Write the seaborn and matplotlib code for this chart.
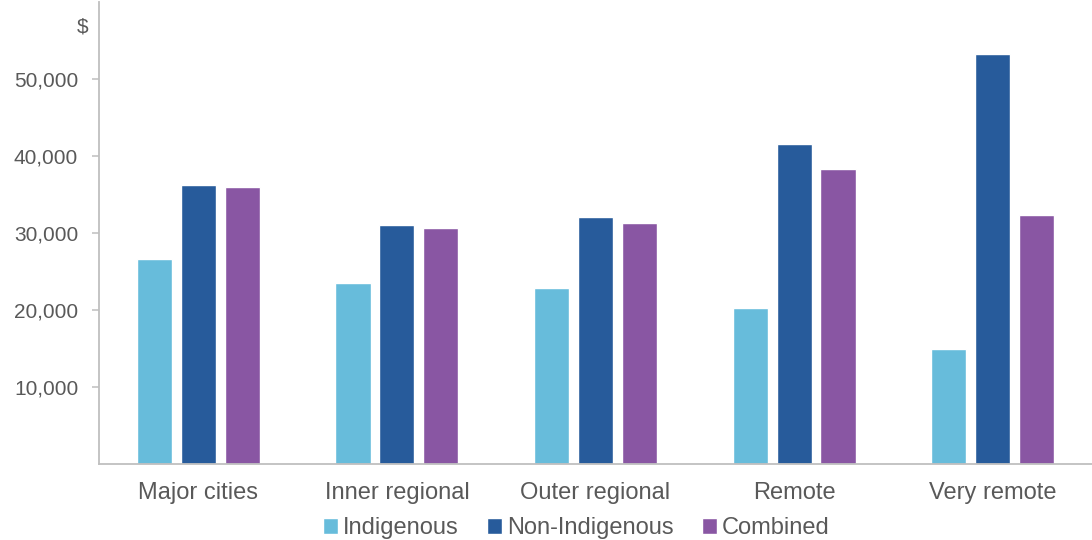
import matplotlib
matplotlib.use("Agg")
import matplotlib.pyplot as plt
import seaborn as sns
import pandas as pd
from matplotlib.ticker import FuncFormatter

regions = ["Major cities", "Inner regional", "Outer regional", "Remote", "Very remote"]
groups = ["Indigenous", "Non-Indigenous", "Combined"]
indigenous = [26650, 23550, 22900, 20200, 14900]
non_indigenous = [36250, 31050, 32100, 41550, 53250]
combined = [36000, 30650, 31350, 38250, 32300]
colors = ["#67BCDB", "#275B9B", "#8956A3"]
yticks = [10000, 20000, 30000, 40000, 50000]

rows = []
for g, vals in zip(groups, [indigenous, non_indigenous, combined]):
    for r, v in zip(regions, vals):
        rows.append({"region": r, "group": g, "value": v})
df = pd.DataFrame(rows)

sns.set_theme(style="white")
plt.rcParams["font.family"] = ["Liberation Sans", "DejaVu Sans"]

W, H = 1092, 540
fig = plt.figure(figsize=(W / 100, H / 100), dpi=100)
ax = fig.add_axes([99 / W, (H - 464) / H, (W - 99) / W, (464 - 2) / H])

sns.barplot(data=df, x="region", y="value", hue="group", order=regions,
            hue_order=groups, palette=colors, width=0.663, gap=0.2,
            ax=ax, errorbar=None, saturation=1)

ax.set_xlim(-0.5, 4.5)
ax.set_ylim(0, 60000)
ax.set_yticks(yticks)
ax.yaxis.set_major_formatter(FuncFormatter(lambda v, p: f"{int(v):,}"))
ax.set_xlabel("")
ax.set_ylabel("")

txt_col = "#595959"
spine_col = "#BFBFBF"
for s in ["top", "right"]:
    ax.spines[s].set_visible(False)
for s in ["left", "bottom"]:
    ax.spines[s].set_color(spine_col)
    ax.spines[s].set_linewidth(1.3)

ax.tick_params(axis="y", which="major", left=True, length=5, width=1.1,
               color=spine_col, pad=10, labelsize=15, labelcolor=txt_col)
ax.tick_params(axis="x", which="major", bottom=False, pad=7,
               labelsize=17, labelcolor=txt_col)

ax.text(-0.011, 56700, "$", transform=ax.get_yaxis_transform(),
        ha="right", va="center", fontsize=15, color=txt_col)

handles, labels = ax.get_legend_handles_labels()
if ax.get_legend() is not None:
    ax.get_legend().remove()
fig.legend(handles, labels, loc="center", bbox_to_anchor=(576 / W, 1 - 528 / H),
           ncol=3, frameon=False, fontsize=17, labelcolor=txt_col,
           handlelength=0.65, handleheight=0.65, handletextpad=0.2,
           columnspacing=1.2)

fig.savefig("out.png", dpi=100)
